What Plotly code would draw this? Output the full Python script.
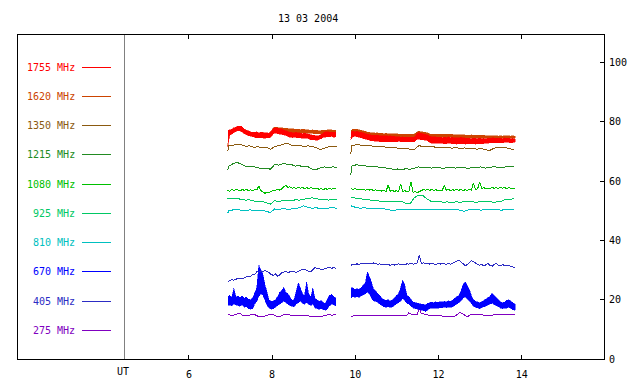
import numpy as np
import plotly.graph_objects as go

TITLE = "13 03 2004"
FREQ_LABELS = ["1755 MHz", "1620 MHz", "1350 MHz", "1215 MHz", "1080 MHz",
               "925 MHz", "810 MHz", "670 MHz", "405 MHz", "275 MHz"]
COLORS = ["#ff0000", "#cc4400", "#8b5a10", "#228b22", "#00c000",
          "#00c864", "#00c0c0", "#0000ff", "#2c2cc4", "#8000c0"]
X_TICKS = [6, 8, 10, 12, 14]
Y_TICKS = [0, 20, 40, 60, 80, 100]
UT_TIME = 4.44

# sampling times (hours UT): fine and coarse grids for the two observing segments
T1 = np.round(6.93 + 0.05 * np.arange(53), 2)
T2 = np.round(9.89 + 0.05 * np.arange(80), 2)
T1C = np.round(np.r_[6.93, 6.96 + 0.1 * np.arange(27)], 2)
T2C = np.round(np.r_[9.89, 9.92 + 0.1 * np.arange(40)], 2)

# ---- noisy channels: upper / lower envelope per time bin ----
F1755_HI_1 = [77.0, 77.2, 77.6, 78.0, 78.3, 78.5, 78.6, 78.4, 77.6, 77.3,
              76.8, 76.6, 76.5, 76.4, 76.6, 76.3, 76.5, 76.4, 76.2, 76.3,
              76.2, 76.8, 77.8, 78.0, 77.9, 77.8, 77.6, 77.3, 77.0, 76.6,
              76.5, 76.4, 76.3, 76.5, 76.4, 76.2, 76.0, 76.2, 76.0, 75.8,
              75.6, 75.4, 75.3, 75.2, 75.4, 75.8, 76.4, 76.6, 76.7, 76.5,
              76.6, 76.4, 76.5]
F1755_LO_1 = [71.5, 75.6, 75.8, 76.4, 76.8, 77.0, 77.0, 76.5, 76.0, 75.6,
              75.4, 75.0, 74.8, 74.8, 74.6, 74.7, 74.8, 74.6, 74.5, 74.7,
              74.6, 75.0, 76.0, 76.2, 76.0, 75.8, 75.8, 75.6, 75.4, 75.0,
              74.8, 74.7, 74.8, 74.7, 74.6, 74.6, 74.5, 74.4, 74.5, 74.3,
              74.0, 73.9, 73.9, 73.8, 74.0, 74.3, 74.8, 75.0, 75.0, 75.0,
              75.1, 74.8, 75.0]
F1755_HI_2 = [76.5, 76.8, 76.7, 76.8, 76.6, 76.5, 76.3, 76.0, 75.8, 75.6,
              75.5, 75.6, 75.4, 75.5, 75.3, 75.4, 75.2, 75.4, 75.2, 75.3,
              75.1, 75.2, 74.9, 75.0, 74.8, 74.9, 74.8, 74.9, 74.8, 74.9,
              74.8, 75.0, 76.2, 76.3, 76.1, 76.0, 75.8, 75.6, 75.1, 75.0,
              74.9, 75.0, 74.8, 74.9, 74.7, 74.8, 74.7, 74.9, 74.7, 74.8,
              74.6, 74.7, 74.6, 74.8, 74.6, 74.5, 74.4, 74.5, 74.3, 74.5,
              74.4, 74.3, 74.5, 74.3, 74.4, 74.3, 74.5, 74.4, 74.6, 74.5,
              74.6, 74.4, 74.5, 74.3, 74.6, 74.4, 74.5, 74.3, 74.4, 74.2]
F1755_LO_2 = [73.9, 75.0, 75.1, 75.0, 74.9, 74.8, 74.5, 74.2, 74.0, 73.8,
              73.6, 73.5, 73.4, 73.5, 73.3, 73.4, 73.3, 73.4, 73.2, 73.3,
              73.2, 73.3, 73.3, 73.4, 73.2, 73.3, 73.2, 73.3, 73.4, 73.3,
              73.2, 73.4, 74.2, 74.0, 73.9, 73.9, 73.8, 73.6, 73.0, 72.8,
              72.8, 72.7, 72.7, 72.8, 72.6, 72.7, 72.6, 72.8, 72.7, 72.6,
              72.6, 72.5, 72.6, 72.7, 72.6, 72.5, 72.6, 72.5, 72.6, 72.7,
              72.5, 72.6, 72.6, 72.7, 72.6, 72.7, 72.8, 73.0, 73.0, 73.1,
              72.9, 73.0, 73.0, 73.0, 73.1, 73.0, 73.1, 72.9, 73.0, 73.2]
F1620_HI_1 = [76.8, 77.0, 77.4, 77.8, 78.1, 78.3, 78.4, 78.2, 77.5, 77.1,
              76.7, 76.5, 76.3, 76.2, 76.4, 76.2, 76.3, 76.2, 76.1, 76.2,
              76.1, 76.9, 78.0, 78.2, 78.1, 78.0, 77.9, 77.8, 77.7, 77.6,
              77.7, 77.6, 77.6, 77.5, 77.6, 77.4, 77.5, 77.4, 77.3, 77.4,
              77.2, 77.3, 77.1, 77.2, 77.0, 77.1, 77.2, 77.3, 77.2, 77.3,
              77.2, 77.3, 77.2]
F1620_LO_1 = [72.0, 76.0, 76.3, 76.7, 77.0, 77.2, 77.3, 77.0, 76.5, 76.1,
              75.8, 75.5, 75.3, 75.2, 75.3, 75.2, 75.3, 75.2, 75.0, 75.1,
              75.1, 75.6, 76.8, 77.0, 76.9, 76.9, 76.8, 76.7, 76.6, 76.5,
              76.5, 76.4, 76.4, 76.4, 76.4, 76.3, 76.3, 76.2, 76.2, 76.2,
              76.1, 76.1, 76.0, 76.0, 75.9, 76.0, 76.1, 76.2, 76.2, 76.2,
              76.1, 76.2, 76.1]
F1620_HI_2 = [77.0, 77.5, 77.4, 77.5, 77.3, 77.2, 77.0, 76.8, 76.5, 76.4,
              76.3, 76.4, 76.2, 76.3, 76.1, 76.2, 76.0, 76.1, 76.0, 76.1,
              75.9, 76.0, 75.9, 75.9, 75.8, 75.9, 75.8, 75.9, 75.8, 75.9,
              75.8, 76.0, 76.7, 76.8, 76.7, 76.6, 76.5, 76.3, 75.9, 75.9,
              75.8, 75.9, 75.8, 75.9, 75.7, 75.8, 75.7, 75.8, 75.7, 75.8,
              75.6, 75.7, 75.6, 75.7, 75.6, 75.5, 75.6, 75.5, 75.6, 75.4,
              75.5, 75.4, 75.5, 75.4, 75.5, 75.3, 75.4, 75.3, 75.4, 75.3,
              75.4, 75.2, 75.3, 75.2, 75.4, 75.3, 75.4, 75.2, 75.3, 75.2]
F1620_LO_2 = [74.5, 76.4, 76.3, 76.3, 76.2, 76.1, 75.9, 75.7, 75.5, 75.4,
              75.3, 75.3, 75.2, 75.3, 75.1, 75.2, 75.1, 75.1, 75.0, 75.1,
              75.0, 75.0, 75.0, 74.9, 74.9, 75.0, 74.9, 75.0, 74.9, 75.0,
              74.9, 75.0, 75.9, 75.9, 75.8, 75.8, 75.6, 75.4, 74.9, 74.8,
              74.8, 74.9, 74.8, 74.8, 74.7, 74.8, 74.7, 74.8, 74.7, 74.7,
              74.6, 74.7, 74.6, 74.7, 74.6, 74.5, 74.6, 74.5, 74.5, 74.4,
              74.5, 74.4, 74.5, 74.4, 74.5, 74.4, 74.5, 74.4, 74.5, 74.4,
              74.5, 74.4, 74.5, 74.4, 74.5, 74.4, 74.5, 74.4, 74.5, 74.4]
F670_HI_1 = [21.0, 21.5, 20.8, 23.8, 21.0, 21.2, 20.8, 21.3, 20.5, 21.0,
             20.2, 20.0, 20.5, 22.3, 24.0, 31.7, 30.0, 28.5, 25.0, 22.0,
             19.8, 19.5, 19.6, 20.0, 21.0, 22.5, 23.0, 24.2, 22.5, 22.0,
             21.0, 19.8, 20.0, 22.5, 25.8, 24.0, 22.0, 21.5, 26.1, 22.0,
             21.0, 24.0, 20.5, 20.0, 19.5, 19.8, 19.0, 18.8, 20.0, 21.5,
             21.8, 21.0, 20.5]
F670_LO_1 = [18.0, 18.2, 18.0, 18.5, 18.2, 18.0, 17.8, 18.2, 17.5, 17.6,
             17.0, 16.8, 17.0, 18.5, 19.5, 21.0, 22.0, 21.5, 19.5, 18.0,
             17.2, 16.8, 17.0, 17.2, 17.8, 18.5, 19.0, 19.5, 19.0, 18.5,
             18.0, 17.8, 17.6, 18.5, 19.0, 19.5, 18.8, 18.5, 19.0, 18.5,
             18.0, 18.5, 17.2, 17.0, 16.8, 17.0, 16.6, 16.5, 16.8, 18.0,
             18.5, 18.2, 18.0]
F670_HI_2 = [24.0, 24.0, 23.5, 23.8, 23.5, 24.0, 25.0, 25.5, 29.5, 27.7,
             26.0, 23.5, 23.0, 22.0, 21.5, 20.5, 20.0, 19.8, 20.0, 19.5,
             20.0, 20.5, 21.5, 22.0, 24.0, 26.7, 25.0, 21.5, 21.0, 20.0,
             19.2, 19.0, 18.8, 18.6, 18.5, 18.5, 18.2, 18.8, 19.0, 19.2,
             19.0, 19.3, 19.0, 19.4, 19.2, 19.5, 19.3, 19.6, 19.4, 19.8,
             20.5, 21.0, 21.5, 23.0, 25.0, 26.1, 25.0, 23.5, 21.5, 20.0,
             19.5, 19.2, 19.0, 19.3, 19.8, 20.5, 21.0, 21.2, 22.2, 21.5,
             20.8, 20.0, 19.4, 19.0, 19.2, 19.8, 20.0, 19.5, 19.0, 18.5]
F670_LO_2 = [20.5, 21.0, 20.8, 21.0, 20.8, 21.2, 21.5, 22.0, 22.5, 22.0,
             20.5, 19.5, 19.5, 18.8, 18.5, 18.0, 17.6, 17.5, 17.6, 17.4,
             17.6, 18.0, 18.5, 19.0, 19.5, 20.5, 19.8, 18.8, 18.5, 17.8,
             17.2, 17.0, 16.8, 16.6, 16.5, 16.3, 16.0, 16.5, 17.0, 17.2,
             17.0, 17.2, 17.0, 17.3, 17.2, 17.5, 17.3, 17.5, 17.4, 17.6,
             18.0, 18.5, 19.0, 19.5, 20.5, 21.0, 20.5, 19.5, 18.8, 17.8,
             17.4, 17.2, 17.0, 17.2, 17.5, 18.0, 18.2, 18.5, 18.8, 18.5,
             18.0, 17.6, 17.2, 17.0, 17.0, 17.2, 17.5, 17.0, 16.6, 16.5]

# ---- quieter channels: single values ----
F1350_1 = [70.0, 72.0, 72.1, 72.5, 72.3, 71.8, 71.9, 71.4, 71.6, 71.3,
           71.5, 70.8, 71.6, 72.0, 72.2, 72.8, 72.2, 71.9, 72.1, 71.7,
           71.9, 71.6, 71.4, 70.6, 71.2, 71.6, 71.8, 71.7]
F1350_2 = [69.0, 72.0, 72.3, 72.2, 71.9, 72.0, 71.7, 71.8, 71.5, 71.6,
           71.3, 71.4, 71.1, 71.2, 70.9, 71.0, 70.7, 71.9, 71.8, 71.6,
           71.7, 71.4, 71.5, 71.3, 71.4, 71.1, 71.3, 71.0, 71.2, 70.9,
           71.1, 70.8, 71.0, 70.7, 70.3, 71.0, 71.5, 71.2, 71.3, 70.9,
           70.5]
F1215_1 = [63.8, 65.0, 65.9, 66.3, 65.7, 65.0, 64.8, 64.9, 64.5, 64.2,
           64.4, 64.0, 65.6, 65.4, 65.9, 65.7, 65.6, 65.1, 65.2, 64.8,
           64.9, 64.1, 63.9, 64.5, 64.8, 64.6, 64.8, 64.7]
F1215_2 = [62.0, 65.1, 65.5, 65.4, 65.2, 64.9, 65.0, 64.8, 64.7, 64.4,
           64.3, 64.0, 64.1, 63.9, 64.2, 64.0, 64.3, 64.8, 64.6, 64.7,
           64.4, 64.6, 64.5, 64.3, 64.6, 64.5, 64.4, 64.7, 64.5, 64.3,
           64.6, 64.5, 64.8, 64.4, 64.6, 64.9, 64.7, 64.5, 64.8, 64.7,
           64.8]
F1080_1 = [57.0, 56.6, 57.2, 56.8, 57.3, 57.0, 56.7, 57.2, 56.9, 57.3,
           56.8, 57.1, 56.7, 57.2, 57.0, 58.4, 56.8, 56.4, 55.9, 56.3,
           56.1, 56.6, 57.0, 56.8, 57.3, 57.0, 57.4, 58.2, 58.5, 57.9,
           58.1, 57.6, 57.9, 57.5, 58.0, 57.6, 57.9, 57.4, 57.8, 57.5,
           57.9, 57.6, 57.3, 57.7, 57.2, 57.6, 57.1, 57.5, 57.2, 57.6,
           57.3, 57.5, 57.4]
F1080_2 = [57.6, 57.2, 57.5, 57.1, 57.4, 57.0, 57.3, 56.9, 57.3, 57.0,
           57.2, 56.8, 57.1, 56.7, 57.0, 56.6, 56.9, 56.5, 58.7, 56.6,
           56.9, 56.5, 56.8, 56.4, 59.0, 56.5, 56.8, 56.4, 56.7, 59.8,
           56.2, 56.5, 56.1, 56.4, 56.8, 57.2, 56.9, 57.3, 56.9, 57.2,
           56.8, 57.1, 56.7, 57.0, 56.8, 58.7, 56.9, 57.2, 56.8, 57.1,
           56.9, 57.3, 56.9, 57.2, 56.8, 57.1, 56.9, 57.3, 57.0, 59.3,
           57.1, 57.4, 59.6, 57.5, 57.8, 57.4, 57.7, 57.5, 57.9, 57.6,
           57.8, 57.5, 57.9, 57.6, 57.8, 57.5, 57.8, 57.6, 57.7, 57.6]
F925_1 = [54.0, 54.1, 54.0, 54.2, 53.8, 53.6, 53.7, 53.3, 53.0, 53.1,
          52.8, 52.3, 53.4, 53.1, 53.5, 53.6, 53.4, 53.7, 53.6, 53.9,
          54.3, 54.4, 54.1, 53.8, 53.9, 53.6, 53.8, 53.7]
F925_2 = [54.4, 54.5, 54.2, 54.0, 53.8, 53.6, 53.5, 53.3, 53.2, 53.3,
          53.1, 53.2, 53.0, 53.2, 52.4, 52.4, 54.4, 55.3, 55.2, 54.0,
          53.2, 53.0, 53.1, 52.9, 53.0, 52.8, 53.0, 52.9, 53.1, 53.2,
          53.0, 52.9, 53.1, 53.3, 53.1, 52.9, 53.0, 53.3, 53.9, 54.0,
          54.0]
F810_1 = [49.2, 50.0, 50.3, 50.4, 50.2, 50.1, 50.3, 50.2, 50.0, 50.2,
          49.9, 49.4, 50.6, 50.4, 50.8, 50.5, 50.6, 50.8, 51.0, 51.7,
          51.1, 50.9, 51.0, 50.8, 50.9, 50.8, 51.0, 50.9]
F810_2 = [51.7, 51.5, 51.1, 50.9, 51.0, 50.8, 50.9, 50.7, 50.8, 50.6,
          50.3, 50.0, 50.4, 50.5, 50.3, 50.6, 50.5, 50.4, 50.6, 50.5,
          50.3, 50.5, 50.4, 50.6, 50.5, 50.3, 50.5, 50.1, 49.8, 50.3,
          50.6, 50.4, 50.2, 50.5, 50.3, 50.6, 50.4, 50.2, 50.5, 50.6,
          50.6]
F405_1 = [26.1, 26.5, 26.8, 26.6, 27.0, 27.2, 27.3, 27.0, 27.4, 27.6,
          28.0, 27.8, 28.6, 28.4, 29.5, 29.3, 29.6, 29.5, 29.8, 29.6,
          29.0, 28.5, 28.2, 28.8, 27.9, 28.3, 29.1, 29.4, 29.5, 29.2,
          29.4, 29.6, 29.5, 29.2, 29.6, 30.0, 30.3, 30.1, 30.0, 29.6,
          29.4, 30.2, 30.9, 30.6, 30.5, 30.1, 30.3, 30.6, 30.7, 30.9,
          30.6, 30.8, 30.6]
F405_2 = [31.5, 32.0, 31.8, 32.1, 31.9, 32.3, 32.2, 32.4, 32.2, 32.3,
          32.1, 32.4, 32.2, 32.0, 32.1, 31.8, 31.9, 31.7, 31.9, 31.6,
          31.8, 31.7, 31.9, 32.1, 31.9, 32.0, 31.8, 32.1, 32.0, 32.2,
          32.0, 32.3, 32.4, 35.1, 32.2, 32.4, 32.1, 32.3, 32.0, 32.2,
          32.1, 31.9, 32.2, 32.0, 32.3, 32.1, 31.9, 32.2, 32.0, 32.3,
          32.6, 33.0, 33.4, 32.8, 32.0, 31.5, 31.8, 32.6, 33.2, 32.8,
          32.3, 32.0, 31.6, 31.9, 31.4, 31.8, 32.2, 31.6, 31.3, 31.9,
          32.2, 31.7, 31.5, 31.8, 31.6, 31.7, 31.4, 31.3, 31.0, 30.9]
F275_1 = [14.8, 14.9, 14.7, 14.8, 15.0, 15.3, 15.4, 14.8, 14.6, 14.5,
          14.7, 14.9, 15.1, 15.0, 14.6, 14.3, 14.2, 14.3, 14.4, 14.7,
          15.0, 15.1, 15.0, 14.6, 14.2, 14.3, 14.7, 15.0, 15.1, 15.0,
          14.8, 14.6, 14.6, 14.7, 14.6, 14.6, 14.7, 14.6, 14.5, 14.6,
          14.5, 14.4, 14.3, 14.3, 14.4, 14.3, 14.5, 14.8, 14.9, 14.9,
          14.8, 14.9, 14.9]
F275_2 = [14.5, 14.5, 14.4, 14.5, 14.5, 14.5, 14.4, 14.5, 14.5, 14.5,
          14.4, 14.5, 14.5, 14.5, 14.5, 14.6, 14.5, 14.5, 14.6, 14.6,
          14.7, 14.7, 14.8, 14.7, 14.7, 14.7, 14.8, 14.7, 15.6, 15.1,
          15.1, 15.2, 15.1, 17.4, 15.2, 15.2, 15.1, 14.9, 14.6, 14.6,
          14.6, 14.6, 14.5, 14.6, 14.6, 14.6, 14.6, 14.6, 14.5, 14.4,
          14.4, 14.9, 15.5, 15.6, 15.2, 14.6, 14.3, 14.6, 15.1, 15.1,
          15.1, 15.0, 15.1, 14.9, 14.8, 14.7, 14.7, 14.7, 14.8, 15.0,
          15.0, 15.1, 15.0, 15.0, 15.0, 15.1, 15.0, 14.9, 14.9, 15.0]

FONT = "DejaVu Sans Mono"

fig = go.Figure()


def add_line(idx, s1, s2, coarse):
    t1, t2 = (T1C, T2C) if coarse else (T1, T2)
    assert len(t1) == len(s1) and len(t2) == len(s2), FREQ_LABELS[idx]
    x = list(t1) + [None] + list(t2)
    y = list(s1) + [None] + list(s2)
    fig.add_trace(go.Scatter(x=x, y=y, mode="lines", connectgaps=False,
                             line=dict(color=COLORS[idx], width=1),
                             name=FREQ_LABELS[idx], hoverinfo="skip"))


def add_band(idx, hi1, lo1, hi2, lo2):
    for t, hi, lo in ((T1, hi1, lo1), (T2, hi2, lo2)):
        assert len(t) == len(hi) == len(lo), FREQ_LABELS[idx]
        x = list(t) + list(t[::-1])
        y = list(hi) + list(lo[::-1])
        fig.add_trace(go.Scatter(x=x, y=y, mode="lines", fill="toself",
                                 fillcolor=COLORS[idx],
                                 line=dict(color=COLORS[idx], width=0.5),
                                 name=FREQ_LABELS[idx], hoverinfo="skip"))


add_line(9, F275_1, F275_2, False)
add_band(7, F670_HI_1, F670_LO_1, F670_HI_2, F670_LO_2)
add_line(8, F405_1, F405_2, False)
add_line(6, F810_1, F810_2, True)
add_line(5, F925_1, F925_2, True)
add_line(4, F1080_1, F1080_2, False)
add_line(3, F1215_1, F1215_2, True)
add_line(2, F1350_1, F1350_2, True)
add_band(1, F1620_HI_1, F1620_LO_1, F1620_HI_2, F1620_LO_2)
add_band(0, F1755_HI_1, F1755_LO_1, F1755_HI_2, F1755_LO_2)

shapes = []
annotations = []
# UT separator line
shapes.append(dict(type="line", xref="x", yref="paper", x0=UT_TIME, x1=UT_TIME,
                   y0=0, y1=1, line=dict(color="#808080", width=1)))
annotations.append(dict(x=UT_TIME - 0.03, y=0, xref="x", yref="paper", text="UT",
                        showarrow=False, yanchor="top", yshift=-5,
                        font=dict(family=FONT, size=10, color="black")))
# legend (labels + short line samples)
for k, lab in enumerate(FREQ_LABELS):
    yk = 98.5 - 9.87 * k
    annotations.append(dict(x=3.31, y=yk, xref="x", yref="y", text=lab,
                            showarrow=False, xanchor="right", yanchor="middle",
                            font=dict(family=FONT, size=10, color=COLORS[k])))
    shapes.append(dict(type="line", xref="x", yref="y", x0=3.43, x1=4.13,
                       y0=yk, y1=yk, line=dict(color=COLORS[k], width=1)))
# title
annotations.append(dict(x=0.495, y=1, xref="paper", yref="paper", text=TITLE,
                        showarrow=False, yanchor="middle", yshift=17,
                        font=dict(family=FONT, size=10, color="black")))

fig.update_layout(
    width=640, height=384,
    margin=dict(l=18, r=36, t=35, b=25, autoexpand=False),
    paper_bgcolor="white", plot_bgcolor="white",
    showlegend=False,
    shapes=shapes, annotations=annotations,
    font=dict(family=FONT, size=10, color="black"),
    xaxis=dict(range=[1.89, 15.98], tickvals=X_TICKS, ticks="inside", ticklen=4,
               tickcolor="black", showline=True, linecolor="black", linewidth=1,
               mirror="allticks", showgrid=False, zeroline=False,
               automargin=False, ticklabelstandoff=6,
               tickfont=dict(family=FONT, size=10, color="black")),
    yaxis=dict(range=[0, 109.3], side="right", tickvals=Y_TICKS, ticks="inside",
               ticklen=4, tickcolor="black", showline=True, linecolor="black",
               linewidth=1, mirror=True, showgrid=False, zeroline=False,
               automargin=False, ticklabelstandoff=2,
               tickfont=dict(family=FONT, size=10, color="black")),
)

POST = (
    "document.body.style.margin='0px';document.body.style.padding='0px';"
    "var st=document.createElement('style');"
    "st.textContent='svg.main-svg path{shape-rendering:crispEdges;}';"
    "document.head.appendChild(st);"
)
fig.write_html("out.html",
               config={"displayModeBar": False, "staticPlot": True},
               post_script=POST)
